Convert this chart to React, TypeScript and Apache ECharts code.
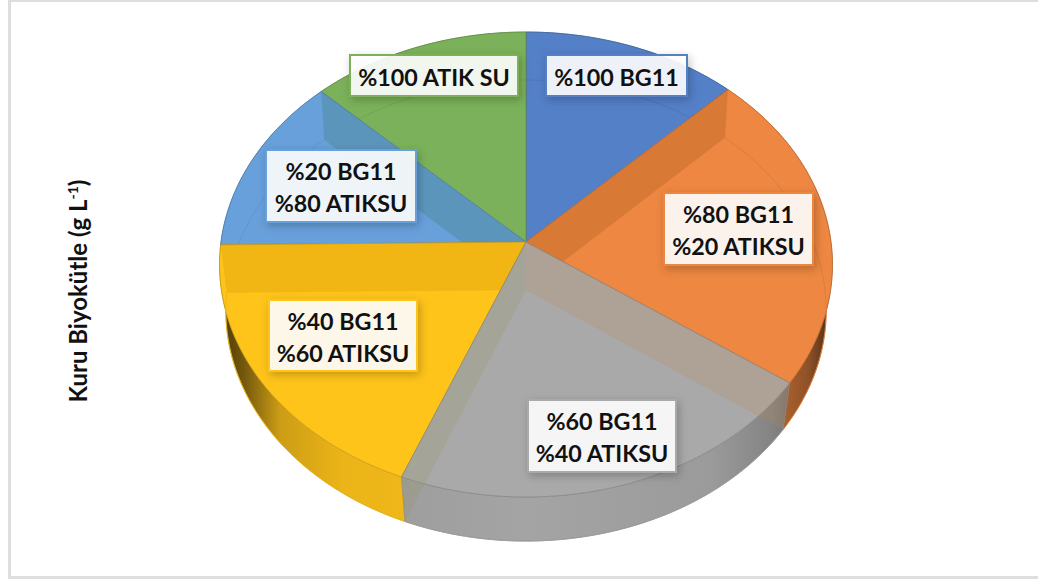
import React, { useEffect, useRef } from "react";
import * as echarts from "echarts";

const categories = ["%100 BG11", "%80 BG11\n%20 ATIKSU", "%60 BG11\n%40 ATIKSU", "%40 BG11\n%60 ATIKSU", "%20 BG11\n%80 ATIKSU", "%100 ATIK SU"];
const biomass = [45, 80.3, 76.5, 67.5, 44.9, 45.8];
const faceColors = ["#5480C8", "#ED8741", "#A9A9A9", "#FFC41A", "#68A0DB", "#7BB15A"];
const wallTints: any = { 1: [["start", "rgba(170,90,30,0.3)"]], 2: [["start", "rgba(190,130,80,0.22)"], ["end", "rgba(150,145,90,0.22)"]], 3: [["end", "rgba(190,130,0,0.22)"]], 4: [["end", "rgba(70,130,130,0.36)"]] };
const paintOrder = [0, 5, 4, 1, 3, 2];
const labelBoxes = [
  [546, 55, 141, 41], [664, 193, 149, 72], [528, 400, 148, 72], [269, 300, 148, 71], [266, 150, 150, 72], [350, 55, 168, 41],
];

const W = 1038, H = 581;
const top = { cx: 526, cy: 242, a: 305, b: 230.3, p: -0.0968 };
const floor = { cx: 526, cy: 290, a: 299, b: 228.7, p: -0.089 };
const project = (pl: any, deg: number) => {
  const t = (deg * Math.PI) / 180, u = Math.sin(t), v = -Math.cos(t), d = 1 + pl.p * v;
  return [pl.cx + (pl.a * u) / d, pl.cy + (pl.b * v) / d];
};
const arc = (pl: any, s: number, e: number) => {
  const pts: number[][] = [];
  const n = Math.max(4, Math.ceil(Math.abs(e - s)));
  for (let i = 0; i <= n; i++) pts.push(project(pl, s + ((e - s) * i) / n));
  return pts;
};
const shade = (hex: string, k: number) => {
  const n = parseInt(hex.slice(1), 16);
  const c = [(n >> 16) & 255, (n >> 8) & 255, n & 255].map((x) => Math.round(x * k));
  return `rgb(${c[0]},${c[1]},${c[2]})`;
};
const sideFill = (color: string) => ({
  type: "linear", global: true, x: 219, y: 0, x2: 833, y2: 0,
  colorStops: [
    [0, 0.28], [0.04, 0.45], [0.1, 0.8], [0.2, 0.92], [0.5, 0.97], [0.8, 0.92], [0.9, 0.78], [0.96, 0.6], [1, 0.3],
  ].map(([offset, k]) => ({ offset, color: shade(color, k) })),
});

const total = biomass.reduce((a, b) => a + b, 0);
const ranges: number[][] = [];
biomass.reduce((acc, v) => {
  const next = acc + (v / total) * 360;
  ranges.push([acc, next]);
  return next;
}, 0);

function renderAll(_: any, api: any) {
  if (api.value(0) !== 0) return { type: "group", children: [] };
  const children: any[] = [];
  const poly = (points: number[][], style: any) => ({ type: "polygon", shape: { points }, style, silent: true });
  paintOrder.forEach((i) => {
    const [s, e] = ranges[i];
    const c = faceColors[i];
    const topArc = arc(top, s, e);
    const outer = arc(floor, s, e);
    children.push(poly([...topArc, ...outer.reverse()], { fill: sideFill(c), stroke: shade(c, 0.75), lineWidth: 0.5 }));
  });
  paintOrder.forEach((i) => {
    const [s, e] = ranges[i];
    const c = faceColors[i];
    const topArc = arc(top, s, e);
    const botArc = arc(floor, s, e);
    children.push(poly([[top.cx, top.cy], ...topArc], { fill: c, stroke: shade(c, 0.8), lineWidth: 0.8 }));
    children.push({
      type: "polyline", shape: { points: botArc }, silent: true,
      style: { fill: "none", stroke: shade(c, 0.93), lineWidth: 1 },
    });
    (wallTints[i] || []).forEach(([side, tint]: any) => {
      const d = side === "start" ? s : e;
      children.push(poly([[top.cx, top.cy], project(top, d), project(floor, d), [floor.cx, floor.cy]], { fill: tint }));
    });
  });
  categories.forEach((name, i) => {
    const [x, y, w, h] = labelBoxes[i];
    children.push({
      type: "rect", shape: { x, y, width: w, height: h }, silent: true,
      style: { fill: "rgba(255,255,255,0.89)", stroke: faceColors[i], lineWidth: 2, shadowBlur: 8, shadowColor: "rgba(0,0,0,0.25)", shadowOffsetX: 2, shadowOffsetY: 3 },
    });
    children.push({
      type: "text", x: x + w / 2, y: y + h / 2 + 1, silent: true,
      style: { text: name, align: "center", verticalAlign: "middle", fill: "#111", font: "bold 23.3px Lato", lineHeight: 32 },
    });
  });
  return { type: "group", children };
}

export default function App() {
  const ref = useRef<HTMLDivElement>(null);
  useEffect(() => {
    document.body.style.margin = "0";
    document.body.style.overflow = "hidden";
    const chart = echarts.init(ref.current!, null, { renderer: "svg" });
    chart.setOption({
      animation: false,
      backgroundColor: "#fff",
      graphic: [
        { type: "rect", shape: { x: 9.5, y: 0.5, width: 1050, height: 577 }, style: { fill: "#fff", stroke: "#DEDEDE", lineWidth: 3 }, silent: true },
        {
          type: "text", x: 77, y: 291, rotation: Math.PI / 2, silent: true,
          style: {
            text: "{b|Kuru Biyokütle (g L}{s|-1}{b|)}", align: "center", verticalAlign: "middle",
            rich: {
              b: { fontFamily: "Lato", fontWeight: "bold", fontSize: 24, fill: "#111" },
              s: { fontFamily: "Lato", fontWeight: "bold", fontSize: 14, fill: "#111", verticalAlign: "top", padding: [0, 0, 9, 0] },
            },
          },
        },
      ],
      series: [{
        type: "custom", coordinateSystem: "none", renderItem: renderAll, clip: false,
        data: biomass.map((v, i) => [i, v]), z: 5,
      }],
    });
    return () => chart.dispose();
  }, []);
  return <div ref={ref} style={{ width: W, height: H }} />;
}
